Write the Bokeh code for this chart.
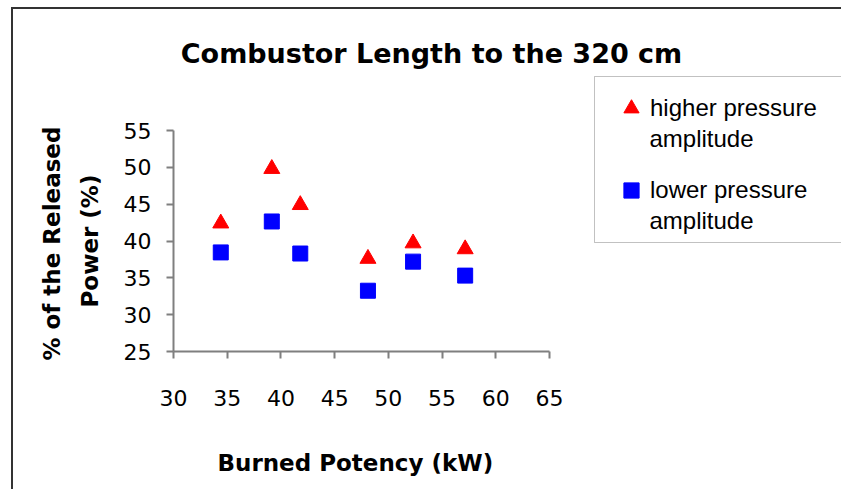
from bokeh.plotting import figure
from bokeh.models import (ColumnDataSource, FixedTicker, Legend, LegendItem, Range1d,
                          Label, BoxAnnotation, Title)
from bokeh.embed import file_html
from bokeh.resources import INLINE

# data
power_kw = [34.4, 39.15, 41.8, 48.1, 52.3, 57.15]
higher_pct = [42.4, 49.8, 44.9, 37.6, 39.7, 38.9]
lower_pct = [38.45, 42.65, 38.3, 33.25, 37.2, 35.3]
x_ticks = [30, 35, 40, 45, 50, 55, 60, 65]
y_ticks = [25, 30, 35, 40, 45, 50, 55]
x_lim = (30, 65)
y_lim = (25, 55)

# layout (pixels)
W, H = 830, 482
B_LEFT, B_BOTTOM = 160, 140
X_AXIS_PX = 376      # length of the 30..65 axis
Y_AXIS_PX = 221      # length of the 25..55 axis
frame_w = W - B_LEFT
frame_h = H - B_BOTTOM
x_end = x_lim[0] + frame_w * (x_lim[1] - x_lim[0]) / X_AXIS_PX
y_end = y_lim[0] + frame_h * (y_lim[1] - y_lim[0]) / Y_AXIS_PX

src = ColumnDataSource(dict(x=power_kw, hi=higher_pct, lo=lower_pct))

p = figure(width=W, height=H, output_backend="svg", toolbar_location=None,
           x_range=Range1d(x_lim[0], x_end), y_range=Range1d(y_lim[0], y_end),
           min_border_left=B_LEFT, min_border_right=0, min_border_top=0,
           min_border_bottom=B_BOTTOM)
p.styles = {"border-left": "2px solid #333333", "border-top": "2px solid #333333",
            "margin-left": "11px", "margin-top": "7px"}
p.outline_line_color = None
p.grid.visible = False
p.background_fill_color = "white"
p.border_fill_color = "white"

for ax in (p.xaxis[0], p.yaxis[0]):
    ax.axis_line_color = "#7f7f7f"
    ax.axis_line_width = 2
    ax.major_tick_line_color = "#7f7f7f"
    ax.major_tick_line_width = 2
    ax.major_tick_in = 0
    ax.major_tick_out = 7
    ax.minor_tick_line_color = None
    ax.major_label_text_font = "DejaVu Sans"
    ax.major_label_text_font_size = "22px"
    ax.major_label_text_color = "black"
    # blank spacer label: only reserves room between tick labels and the titles
    ax.axis_label = " "
    ax.axis_label_text_font_size = "1px"
    ax.axis_label_text_alpha = 0

p.xaxis.bounds = x_lim
p.yaxis.bounds = y_lim
p.xaxis.ticker = FixedTicker(ticks=x_ticks)
p.yaxis.ticker = FixedTicker(ticks=y_ticks)
p.xaxis.major_label_standoff = 31
p.yaxis.major_label_standoff = 15
p.xaxis.axis_label_standoff = 34
p.yaxis.axis_label_standoff = 14

# axis titles (placed against the 30..65 / 25..55 extent of the axes)
def axis_title(text, offset, standoff):
    return Title(text=text, align="left", offset=offset, standoff=standoff,
                 text_font="DejaVu Sans", text_font_size="23px",
                 text_font_style="bold", text_color="black")

p.add_layout(axis_title("Burned Potency (kW)", 44, 2), "below")
p.add_layout(axis_title("Power (%)", 44, 0), "left")
p.add_layout(axis_title("% of the Released", -9, 20), "left")

r_hi = p.scatter("x", "hi", source=src, marker="triangle", size=16,
                 fill_color="#ff0000", line_color="#ff0000")
r_lo = p.scatter("x", "lo", source=src, marker="square", size=15,
                 fill_color="#0000ff", line_color="#0000ff")

# chart title
p.add_layout(Label(x=258, y=298, x_units="screen", y_units="screen",
                   text="Combustor Length to the 320 cm", text_align="center",
                   text_baseline="alphabetic", text_font="DejaVu Sans",
                   text_font_size="27px", text_font_style="bold", text_color="black"))

# legend box
p.add_layout(BoxAnnotation(left=421, right=frame_w + 20, bottom=109, top=275,
                           left_units="screen", right_units="screen",
                           bottom_units="screen", top_units="screen",
                           fill_alpha=0, line_color="#333333", line_width=1))

legend = Legend(items=[LegendItem(label="higher pressure", renderers=[r_hi]),
                       LegendItem(label="lower pressure", renderers=[r_lo])],
                location=(439, 142), padding=10, glyph_width=38, glyph_height=38,
                label_standoff=0, spacing=44,
                label_text_font="Liberation Sans", label_text_font_size="24px",
                label_text_color="black",
                border_line_color=None, background_fill_alpha=0)
p.add_layout(legend, "center")

for yy in (213, 131):
    p.add_layout(Label(x=476, y=yy, x_units="screen", y_units="screen",
                       text="amplitude", text_align="left", text_baseline="alphabetic",
                       text_font="Liberation Sans", text_font_size="24px",
                       text_color="black"))

open("out.html", "w").write(file_html(p, INLINE))
